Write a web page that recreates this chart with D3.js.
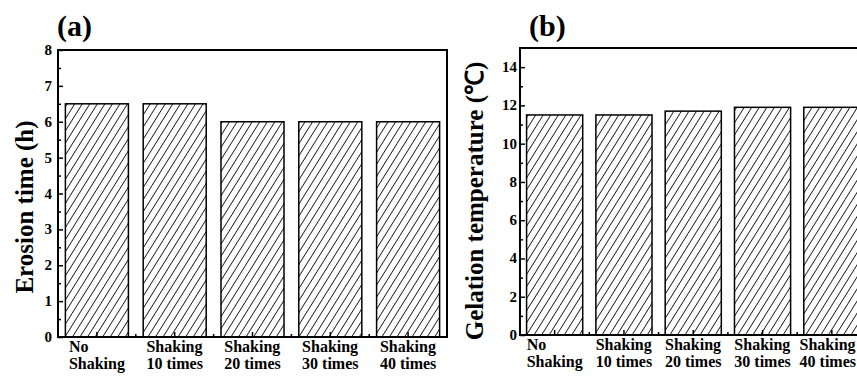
<!DOCTYPE html>
<html>
<head>
<meta charset="utf-8">
<script src="https://cdn.jsdelivr.net/npm/d3@7"></script>
<style>
  body { margin: 0; background: #fff; }
  text { font-family: "Liberation Serif", "Times New Roman", serif; font-weight: bold; fill: #000; }
</style>
</head>
<body>
<div id="chart"></div>
<script>
// data
const categoryLines = [["No", "Shaking"], ["Shaking", "10 times"], ["Shaking", "20 times"], ["Shaking", "30 times"], ["Shaking", "40 times"]];
const categories = categoryLines.map(d => d.join(" "));
const erosionHours = [6.5, 6.5, 6.0, 6.0, 6.0];
const gelationTemps = [11.5, 11.5, 11.7, 11.9, 11.9];
const erosionTicks = [0, 1, 2, 3, 4, 5, 6, 7, 8];
const gelationTicks = [0, 2, 4, 6, 8, 10, 12, 14];

const svg = d3.select("#chart").append("svg")
  .attr("width", 857)
  .attr("height", 376)
  .style("background-color", "white");

// diagonal hatch for the bars
const pat = svg.append("defs").append("pattern")
  .attr("id", "hatch")
  .attr("patternUnits", "userSpaceOnUse")
  .attr("width", 6.4)
  .attr("height", 6.4)
  .attr("patternTransform", "rotate(32)");
pat.append("rect").attr("width", 6.4).attr("height", 6.4).attr("fill", "white");
pat.append("line")
  .attr("x1", 3.2).attr("y1", 0).attr("x2", 3.2).attr("y2", 6.4)
  .attr("stroke", "black").attr("stroke-width", 0.8);

function drawPanel(p) {
  const g = svg.append("g");

  const x = d3.scaleBand()
    .domain(categories)
    .range([p.left, p.right])
    .paddingInner(0.19)
    .paddingOuter(0.095);

  const y = d3.scaleLinear()
    .domain(p.domain)
    .range([p.bottom, p.top]);

  // bars
  g.selectAll("rect.bar")
    .data(p.values)
    .enter()
    .append("rect")
    .attr("class", "bar")
    .attr("x", (d, i) => x(categories[i]))
    .attr("y", d => y(d))
    .attr("width", x.bandwidth())
    .attr("height", d => y(0) - y(d))
    .attr("fill", "url(#hatch)")
    .attr("stroke", "black")
    .attr("stroke-width", 1.5);

  // y axis, ticks pointing inward
  const yAxis = d3.axisRight(y).tickValues(p.ticks).tickSize(5).tickFormat("");
  g.append("g")
    .attr("transform", "translate(" + p.left + ",0)")
    .call(yAxis)
    .call(a => a.select(".domain").remove())
    .selectAll("line").attr("stroke-width", 1.5);

  const yMinor = d3.axisRight(y).tickValues(p.minor).tickSize(3).tickFormat("");
  g.append("g")
    .attr("transform", "translate(" + p.left + ",0)")
    .call(yMinor)
    .call(a => a.select(".domain").remove())
    .selectAll("line").attr("stroke-width", 1.5);

  g.selectAll("text.ytick")
    .data(p.ticks)
    .enter()
    .append("text")
    .attr("class", "ytick")
    .attr("x", p.left - p.labelGap)
    .attr("y", d => y(d) + 5)
    .attr("text-anchor", "end")
    .style("font-size", "15px")
    .text(d => d);

  // x axis ticks pointing up: major at bar centres, minor between bars
  const xAxis = d3.axisTop(x).tickSize(5).tickFormat("");
  g.append("g")
    .attr("transform", "translate(0," + p.bottom + ")")
    .call(xAxis)
    .call(a => a.select(".domain").remove())
    .selectAll("line").attr("stroke-width", 1.5);

  const bounds = categories.slice(1).map(c => x(c) - x.step() * x.paddingInner() / 2);
  g.selectAll("line.xminor")
    .data(bounds)
    .enter()
    .append("line")
    .attr("class", "xminor")
    .attr("x1", d => d).attr("x2", d => d)
    .attr("y1", p.bottom).attr("y2", p.bottom - 3)
    .attr("stroke", "black").attr("stroke-width", 1.5);

  // category labels, two lines each
  const lab = g.selectAll("text.xlab")
    .data(categoryLines)
    .enter()
    .append("text")
    .attr("class", "xlab")
    .style("font-size", "16px");
  lab.each(function (lines, i) {
    const t = d3.select(this);
    lines.forEach((s, k) => {
      t.append("tspan").attr("y", p.bottom + 15 + k * 17).text(s);
    });
    let w = 0;
    t.selectAll("tspan").each(function () { w = Math.max(w, this.getComputedTextLength()); });
    const cx = x(categories[i]) + x.bandwidth() / 2;
    // keep the last label from running past the page edge
    const left = Math.min(cx - w / 2, 857 - w - 1);
    t.selectAll("tspan").attr("x", left);
  });

  // frame
  g.append("path")
    .attr("d", "M" + p.left + "," + p.bottom + "H" + p.right + "V" + p.top + "H" + p.left + "Z")
    .attr("fill", "none")
    .attr("stroke", "black")
    .attr("stroke-width", 2);

  // axis title
  g.append("text")
    .attr("transform", "translate(" + p.titleX + "," + p.titleY + ") rotate(-90)")
    .attr("text-anchor", "middle")
    .style("font-size", "25px")
    .text(p.title);

  // panel letter
  g.append("text")
    .attr("x", p.tagX)
    .attr("y", 36)
    .style("font-size", "30px")
    .text(p.tag);
}

drawPanel({
  left: 58, right: 447, top: 50, bottom: 337,
  domain: [0, 8], values: erosionHours,
  ticks: erosionTicks, minor: d3.range(0.5, 8, 1),
  labelGap: 6,
  title: "Erosion time (h)", titleX: 33, titleY: 207,
  tag: "(a)", tagX: 57
});

drawPanel({
  left: 520, right: 866.5, top: 48, bottom: 335,
  domain: [0, 15], values: gelationTemps,
  ticks: gelationTicks, minor: d3.range(1, 15, 2),
  labelGap: 3,
  title: "Gelation temperature (℃)", titleX: 483, titleY: 201,
  tag: "(b)", tagX: 529
});
</script>
</body>
</html>
